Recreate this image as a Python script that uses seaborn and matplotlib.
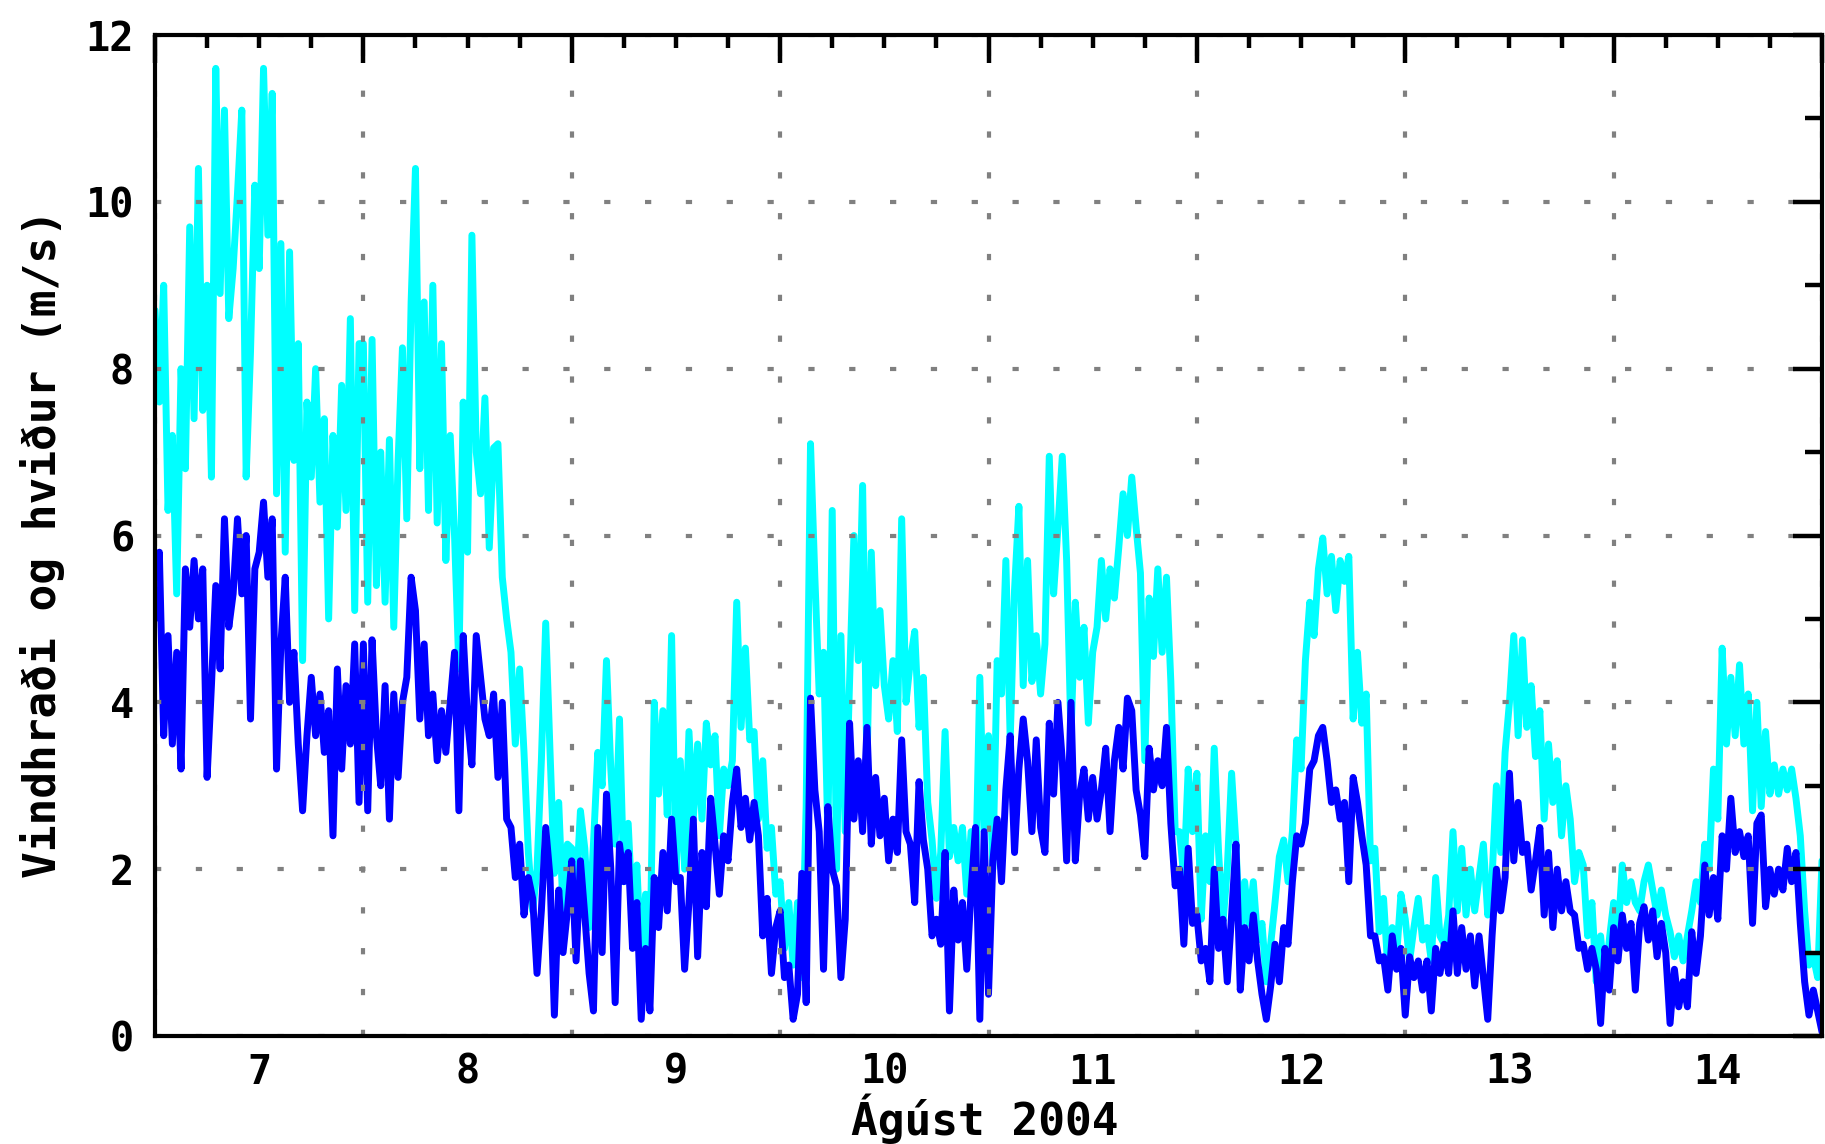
import numpy as np
import pandas as pd
import matplotlib
matplotlib.use("Agg")
import matplotlib.pyplot as plt
import matplotlib.dates as mdates
import matplotlib.ticker as mticker
import seaborn as sns

# Half-hourly readings, one list per day (Ágúst 2004)
gust_07 = [8.7, 7.6, 9.0, 6.3, 7.2, 5.3, 8.0, 6.8, 9.7, 7.4, 10.4, 7.5, 9.0, 6.7, 11.6, 8.9,
           11.1, 8.6, 9.2, 10.1, 11.1, 6.7, 8.2, 10.2, 9.2, 11.6, 9.6, 11.3, 6.5, 9.5, 5.8, 9.4,
           6.9, 8.3, 4.5, 7.6, 6.7, 8.0, 6.4, 7.4, 5.0, 7.2, 6.1, 7.8, 6.3, 8.6, 5.1, 8.3]
wind_07 = [5.0, 5.8, 3.6, 4.8, 3.5, 4.6, 3.2, 5.6, 4.9, 5.7, 5.0, 5.6, 3.1, 4.2, 5.4, 4.4,
           6.2, 4.9, 5.3, 6.2, 5.3, 6.0, 3.8, 5.6, 5.8, 6.4, 5.5, 6.2, 3.2, 4.7, 5.5, 4.0,
           4.6, 3.5, 2.7, 3.6, 4.3, 3.6, 4.1, 3.4, 3.9, 2.4, 4.4, 3.2, 4.2, 3.5, 4.7, 2.8]
gust_08 = [8.3, 5.2, 8.35, 5.4, 7.0, 5.2, 7.15, 4.9, 6.9, 8.25, 6.2, 8.8, 10.4, 6.8, 8.8, 6.3,
           9.0, 6.15, 8.3, 5.7, 7.2, 6.0, 4.4, 7.6, 5.8, 9.6, 7.0, 6.5, 7.65, 5.85, 7.05, 7.1,
           5.5, 5.0, 4.6, 3.5, 4.4, 3.4, 2.2, 1.5, 2.0, 3.3, 4.95, 3.4, 1.95, 2.8, 1.5, 2.3]
wind_08 = [4.7, 2.7, 4.75, 3.6, 3.0, 4.2, 2.6, 4.1, 3.1, 4.0, 4.3, 5.5, 5.1, 3.8, 4.7, 3.6,
           4.1, 3.3, 3.9, 3.4, 4.0, 4.6, 2.7, 4.8, 3.8, 3.25, 4.8, 4.3, 3.8, 3.6, 4.1, 3.1,
           4.0, 2.6, 2.5, 1.9, 2.3, 1.45, 1.9, 1.65, 0.75, 1.5, 2.5, 1.9, 0.25, 1.75, 1.0, 1.5]
gust_09 = [2.25, 1.7, 2.7, 2.25, 1.3, 2.3, 3.4, 3.0, 4.5, 3.2, 2.3, 3.8, 1.85, 2.55, 1.45, 2.05,
           0.85, 1.7, 0.85, 4.0, 2.9, 3.9, 2.65, 4.8, 1.9, 3.3, 2.0, 3.65, 2.6, 3.5, 2.6, 3.75,
           3.25, 3.6, 2.4, 3.2, 3.0, 3.3, 5.2, 3.7, 4.65, 3.55, 3.65, 2.6, 3.3, 2.25, 2.5, 1.7]
wind_09 = [2.1, 0.9, 2.1, 1.45, 0.75, 0.3, 2.5, 1.0, 2.9, 2.0, 0.4, 2.3, 1.85, 2.2, 1.05, 1.6,
           0.2, 1.05, 0.3, 1.9, 1.3, 2.2, 1.5, 2.6, 1.85, 1.9, 0.8, 1.6, 2.6, 0.95, 2.2, 1.55,
           2.85, 2.3, 1.7, 2.4, 2.1, 2.8, 3.2, 2.5, 2.85, 2.35, 2.8, 2.4, 1.2, 1.65, 0.75, 1.3]
gust_10 = [1.85, 1.05, 1.6, 0.85, 1.6, 0.7, 2.75, 7.1, 5.5, 4.1, 4.6, 2.4, 6.3, 2.0, 4.8, 2.45,
           4.25, 6.0, 4.5, 6.6, 3.2, 5.8, 4.2, 5.1, 4.2, 3.8, 4.5, 3.65, 6.2, 4.0, 4.5, 4.85,
           3.7, 4.3, 2.8, 2.35, 1.65, 2.2, 3.65, 2.15, 2.5, 2.1, 2.5, 1.7, 2.45, 1.8, 4.3, 2.45]
wind_10 = [1.5, 0.7, 0.85, 0.2, 0.5, 1.95, 0.4, 4.05, 2.95, 2.45, 0.8, 2.75, 2.0, 1.8, 0.7, 1.4,
           3.75, 2.6, 3.3, 2.45, 3.7, 2.3, 3.1, 2.4, 2.85, 2.1, 2.6, 2.2, 3.55, 2.45, 2.3, 1.6,
           3.05, 2.35, 2.0, 1.2, 1.4, 1.1, 2.2, 0.3, 1.75, 1.15, 1.6, 0.8, 1.75, 2.5, 0.2, 2.45]
gust_11 = [3.6, 2.0, 4.5, 4.1, 5.7, 3.55, 5.35, 6.35, 4.2, 5.7, 4.25, 4.8, 4.1, 4.7, 6.95, 5.3,
           6.1, 6.95, 5.7, 3.6, 5.2, 4.3, 4.9, 3.75, 4.6, 4.9, 5.7, 5.0, 5.6, 5.25, 5.85, 6.5,
           6.0, 6.7, 6.1, 5.55, 3.3, 5.25, 4.55, 5.6, 4.6, 5.5, 4.25, 2.45, 2.45, 1.9, 3.2, 2.45]
wind_11 = [0.5, 2.1, 2.6, 1.85, 2.95, 3.6, 2.2, 3.2, 3.8, 3.3, 2.45, 3.55, 2.5, 2.2, 3.75, 2.9,
           4.0, 3.3, 2.1, 4.0, 2.1, 2.9, 3.2, 2.6, 3.1, 2.6, 2.95, 3.45, 2.45, 3.3, 3.7, 3.2,
           4.05, 3.9, 2.95, 2.65, 2.15, 3.45, 2.95, 3.3, 3.0, 3.7, 2.55, 1.8, 2.0, 1.1, 2.25, 1.35]
gust_12 = [3.15, 1.4, 2.4, 1.85, 3.45, 2.2, 1.35, 2.0, 3.15, 2.3, 1.1, 1.85, 1.35, 1.85, 1.15, 1.35,
           0.65, 1.1, 1.6, 2.15, 2.35, 1.85, 2.45, 3.55, 3.2, 4.5, 5.2, 4.8, 5.6, 5.97, 5.3, 5.75,
           5.1, 5.7, 5.45, 5.75, 3.8, 4.6, 3.75, 4.1, 2.1, 2.25, 1.25, 1.65, 0.8, 1.3, 0.95, 1.7]
wind_12 = [1.45, 0.9, 1.05, 0.65, 2.0, 1.05, 1.4, 0.65, 1.45, 2.3, 0.55, 1.3, 0.9, 1.45, 0.9, 0.5,
           0.2, 0.6, 1.1, 0.65, 1.3, 1.1, 1.85, 2.4, 2.3, 2.55, 3.2, 3.3, 3.6, 3.7, 3.3, 2.8,
           2.95, 2.6, 2.8, 1.85, 3.1, 2.8, 2.4, 2.05, 1.2, 1.2, 0.9, 0.95, 0.55, 1.2, 0.8, 1.05]
gust_13 = [1.4, 0.9, 1.3, 1.65, 1.15, 1.3, 0.9, 1.9, 1.2, 1.1, 1.45, 2.45, 1.5, 2.25, 1.45, 2.0,
           1.5, 1.9, 2.3, 1.45, 1.9, 3.0, 2.2, 3.4, 4.0, 4.8, 3.6, 4.75, 3.7, 4.2, 3.35, 3.9,
           2.6, 3.5, 2.8, 3.3, 2.4, 3.0, 2.6, 1.85, 2.2, 2.05, 1.2, 1.6, 0.65, 1.2, 0.65, 1.15]
wind_13 = [0.25, 0.95, 0.7, 0.9, 0.55, 0.9, 0.3, 1.05, 0.75, 1.1, 0.75, 1.5, 0.75, 1.3, 0.8, 1.2,
           0.6, 1.2, 0.7, 0.2, 1.2, 2.0, 1.5, 1.9, 3.15, 2.1, 2.8, 2.2, 2.3, 1.75, 2.1, 2.5,
           1.45, 2.2, 1.3, 2.0, 1.5, 1.85, 1.5, 1.45, 1.05, 1.1, 0.8, 1.05, 0.8, 0.15, 1.05, 0.55]
gust_14 = [1.6, 1.2, 2.05, 1.6, 1.85, 1.6, 1.5, 1.85, 2.05, 1.75, 1.45, 1.75, 1.45, 1.25, 0.95, 1.2,
           0.9, 1.2, 1.5, 1.85, 1.6, 2.3, 2.0, 3.2, 2.6, 4.65, 3.5, 4.3, 3.6, 4.45, 3.5, 4.1,
           2.7, 4.0, 2.75, 3.65, 2.9, 3.25, 2.9, 3.2, 2.95, 3.2, 2.85, 2.4, 1.5, 0.85, 0.95, 0.7, 2.1]
wind_14 = [1.3, 0.9, 1.45, 1.05, 1.35, 0.55, 1.35, 1.55, 1.15, 1.5, 0.95, 1.35, 1.0, 0.15, 0.8, 0.35,
           0.65, 0.35, 1.25, 0.75, 1.2, 2.05, 1.45, 1.9, 1.4, 2.4, 2.0, 2.85, 2.2, 2.45, 2.15, 2.4,
           1.35, 2.55, 2.65, 1.55, 2.0, 1.7, 2.0, 1.75, 2.25, 1.85, 2.2, 1.35, 0.65, 0.25, 0.55, 0.3, 0.05]

gust = gust_07 + gust_08 + gust_09 + gust_10 + gust_11 + gust_12 + gust_13 + gust_14
wind = wind_07 + wind_08 + wind_09 + wind_10 + wind_11 + wind_12 + wind_13 + wind_14

y_label = "Vindhraði og hviður (m/s)"
x_label = "Ágúst 2004"


def day_label(x, pos):
    # label only the noon tick of each day
    hours = round((x % 1) * 24)
    if hours == 12:
        return str(mdates.num2date(np.floor(x)).day)
    return ""


def plot_wind():
    sns.set_style("white")
    plt.rcParams['font.family'] = ['DejaVu Sans Mono', 'DejaVu Sans']
    plt.rcParams['font.weight'] = 'bold'
    plt.rcParams['text.color'] = 'black'
    plt.rcParams['xtick.labelcolor'] = 'black'
    plt.rcParams['ytick.labelcolor'] = 'black'

    df = pd.DataFrame({
        "time": pd.date_range("2004-08-07 00:00", periods=len(gust), freq="30min"),
        "gust": gust,
        "wind": wind,
    })

    fig = plt.figure(figsize=(18.25, 11.44), dpi=100)
    ax = fig.add_axes([155 / 1825, 1 - 1036 / 1144, 1667 / 1825, 1001 / 1144])

    sns.lineplot(data=df, x="time", y="gust", color="#00ffff", lw=5, estimator=None, ax=ax)
    sns.lineplot(data=df, x="time", y="wind", color="#0000ff", lw=5, estimator=None, ax=ax)

    ax.set_xlim(pd.Timestamp("2004-08-07"), pd.Timestamp("2004-08-15"))
    ax.set_ylim(0, 12)
    ax.set_xlabel("")
    ax.set_ylabel("")

    # ticks: day boundaries long, 6-hourly short, day number at noon
    ax.xaxis.set_major_locator(mdates.DayLocator())
    ax.xaxis.set_major_formatter(mticker.NullFormatter())
    ax.xaxis.set_minor_locator(mdates.HourLocator(byhour=[6, 12, 18]))
    ax.xaxis.set_minor_formatter(mticker.FuncFormatter(day_label))
    ax.yaxis.set_major_locator(mticker.MultipleLocator(2))
    ax.yaxis.set_minor_locator(mticker.MultipleLocator(1))

    ax.tick_params(which='both', direction='in', top=True, right=True, width=3.2,
                   color='black', labelcolor='black')
    ax.tick_params(axis='x', which='major', length=20)
    ax.tick_params(axis='x', which='minor', length=9.5, pad=12, labelsize=29)
    ax.tick_params(axis='y', which='major', length=21, pad=15, labelsize=29)
    ax.tick_params(axis='y', which='minor', length=12)

    # grid drawn over the data, as in the original
    ax.set_axisbelow(False)
    ax.grid(True, which='major', color='#808080', lw=3, linestyle=(0, (1.5, 8.3)))

    for sp in ax.spines.values():
        sp.set_linewidth(3)
        sp.set_color('black')
        sp.set_zorder(3)

    fig.text(985 / 1825, (1144 - 1135) / 1144, x_label, ha='center', va='baseline',
             fontsize=32, color='black')
    fig.text(43 / 1825, 1 - 544 / 1144, y_label, ha='center', va='center', rotation=90,
             fontsize=32, color='black')

    fig.savefig("out.png", dpi=100)


if __name__ == "__main__":
    plot_wind()
